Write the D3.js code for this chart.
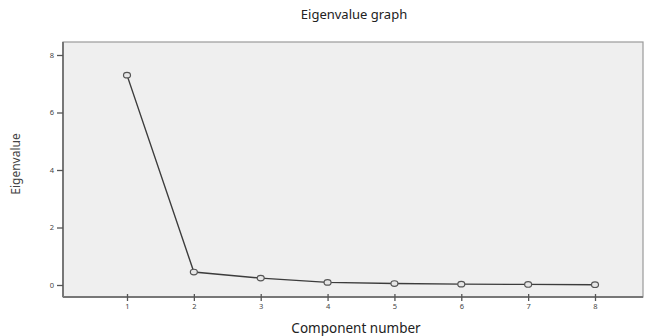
<!DOCTYPE html>
<html>
<head>
<meta charset="utf-8">
<script src="https://cdn.jsdelivr.net/npm/d3@7"></script>
<style>
  body { margin: 0; background: #fff; }
  text { font-family: "Noto Sans", "Open Sans", sans-serif; }
</style>
</head>
<body>
<div id="chart"></div>
<script>
// component numbers and eigenvalues
var components = [1, 2, 3, 4, 5, 6, 7, 8];
var eigenvalues = [7.3, 0.45, 0.24, 0.09, 0.05, 0.03, 0.02, 0.01];
var yTicks = [0, 2, 4, 6, 8];

var width = 646, height = 336;
var frame = {left: 63, right: 643, top: 42, bottom: 297};

var svg = d3.select("#chart")
  .append("svg")
  .attr("width", width)
  .attr("height", height);

// scales
var x = d3.scaleLinear()
  .domain([1, 8])
  .range([127, 595]);

var y = d3.scaleLinear()
  .domain([0, 8])
  .range([285, 55]);

// plot background
svg.append("rect")
  .attr("x", frame.left)
  .attr("y", frame.top)
  .attr("width", frame.right - frame.left)
  .attr("height", frame.bottom - frame.top)
  .attr("fill", "#efefef")
  .attr("stroke", "#9a9a9a")
  .attr("stroke-width", 1.2);

// x axis
var xAxis = svg.append("g")
  .attr("transform", "translate(0," + frame.bottom + ")")
  .call(d3.axisBottom(x).tickValues(components).tickFormat(d3.format("d"))
    .tickSize(5).tickSizeOuter(0).tickPadding(2));
xAxis.select(".domain")
  .attr("d", "M" + frame.left + ",0H" + frame.right)
  .attr("stroke", "#777")
  .attr("stroke-width", 2);
xAxis.selectAll(".tick line")
  .attr("y1", -3).attr("y2", 4)
  .attr("stroke", "#555")
  .attr("stroke-width", 1.3);
xAxis.selectAll(".tick text")
  .attr("font-size", 7.5)
  .attr("fill", "#444");

// y axis
var yAxis = svg.append("g")
  .attr("transform", "translate(" + frame.left + ",0)")
  .call(d3.axisLeft(y).tickValues(yTicks).tickFormat(d3.format("d"))
    .tickSize(6).tickSizeOuter(0).tickPadding(3));
yAxis.select(".domain")
  .attr("d", "M0," + frame.top + "V" + frame.bottom)
  .attr("stroke", "#777")
  .attr("stroke-width", 2);
yAxis.selectAll(".tick line")
  .attr("stroke", "#555")
  .attr("stroke-width", 1.3);
yAxis.selectAll(".tick text")
  .attr("font-size", 7.5)
  .attr("fill", "#444");

// line
var points = components.map(function(c, i) { return [c, eigenvalues[i]]; });

svg.append("path")
  .datum(points)
  .attr("fill", "none")
  .attr("stroke", "#3c3c3c")
  .attr("stroke-width", 1.4)
  .attr("d", d3.line()
    .x(function(d) { return x(d[0]); })
    .y(function(d) { return y(d[1]); }));

// markers
svg.selectAll(".pt")
  .data(points)
  .enter()
  .append("ellipse")
  .attr("class", "pt")
  .attr("cx", function(d) { return x(d[0]); })
  .attr("cy", function(d) { return y(d[1]); })
  .attr("rx", 3.5)
  .attr("ry", 2.8)
  .attr("fill", "#e6e6e6")
  .attr("stroke", "#555")
  .attr("stroke-width", 1.2);

// titles
svg.append("text")
  .attr("x", 354)
  .attr("y", 19)
  .attr("text-anchor", "middle")
  .attr("font-size", 13)
  .attr("fill", "#222")
  .text("Eigenvalue graph");

svg.append("text")
  .attr("x", 356)
  .attr("y", 333)
  .attr("text-anchor", "middle")
  .attr("font-size", 13.5)
  .attr("fill", "#222")
  .text("Component number");

svg.append("text")
  .attr("transform", "translate(20,164) rotate(-90)")
  .attr("text-anchor", "middle")
  .attr("font-size", 12)
  .attr("fill", "#444")
  .text("Eigenvalue");
</script>
</body>
</html>
